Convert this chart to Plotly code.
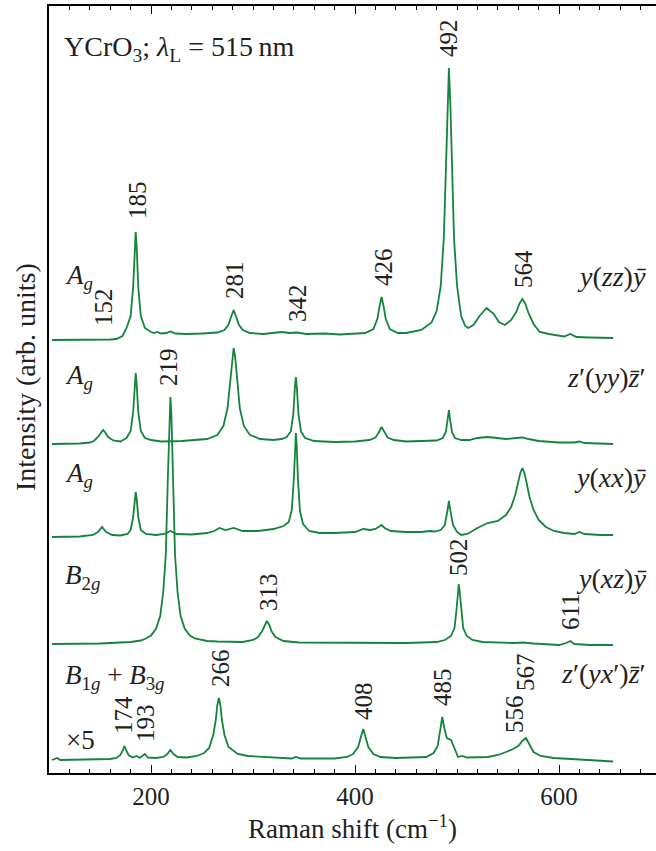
import plotly.graph_objects as go

# ---------------- data (Raman shift in cm^-1, intensity in arb. units) ----------------
zz_x = [103, 120, 140, 160, 166, 172, 176, 180, 182.5, 184, 185, 186, 187.5, 190, 194, 200, 203, 206, 210, 215,
        219, 224, 235, 250, 265, 272, 276, 278.5, 281, 283.5, 286, 290, 297, 310, 320, 328, 336, 343, 352, 370,
        385, 398, 410, 418, 422, 424, 426, 428, 430, 434, 442, 450, 465, 475, 480, 484, 487, 489, 490.5, 492,
        493.5, 495, 497, 500, 504, 508, 511, 516, 522, 529, 536, 541, 547, 553, 558, 561, 564, 567, 570, 575,
        581, 590, 600, 605, 611, 617, 630, 653]
zz_y = [0, 0, 0.5, 0.5, 1, 4, 12, 24, 53, 92, 108, 92, 53, 24, 12, 8, 7, 8, 6.5, 7,
        8.5, 6.5, 6, 6.5, 7.5, 10, 15.4, 23.3, 30, 23.3, 15.4, 10, 7, 6, 7.5, 8, 7, 7.5, 6, 6.5,
        5.5, 6.5, 7, 11, 21.5, 33.6, 43, 33.6, 21.5, 11, 7, 7, 10, 17.6, 29, 54, 102, 169, 234, 272,
        234, 169, 102, 54, 24, 14, 12, 15, 24, 32, 26, 18, 15, 20, 28, 36, 41, 36, 27, 16,
        8, 6, 4, 3.5, 6, 3, 2.5, 2]

yy_x = [103, 130, 140, 144, 148, 150.5, 153, 155.5, 158, 163, 170, 176, 180, 182.5, 184, 185, 186, 187.5, 190, 194,
        200, 210, 230, 250, 255, 265, 271, 275, 277.5, 279.5, 281, 282.5, 284.5, 287, 291, 297, 307, 320, 328, 333,
        337, 339.5, 341, 342, 343, 344.5, 347, 351, 360, 380, 400, 414, 420, 423, 426, 429, 432, 438, 450, 480,
        486, 489, 490.8, 492, 493.2, 495, 498, 504, 512, 520, 530, 540, 548, 558, 564, 570, 580, 600, 615, 620,
        625, 653]
yy_y = [0, 0.5, 1.5, 3, 7, 11, 14, 11, 7, 3.5, 2.5, 6, 13, 32, 59, 71, 59, 32, 13, 6,
        4, 2.5, 3, 4, 5, 9, 18, 36, 61, 87, 96, 87, 61, 36, 18, 9, 5, 4, 5, 7,
        12.5, 30, 56, 67, 56, 30, 12.5, 6, 3, 2, 2.5, 4, 6.5, 11, 17, 11, 6.5, 4, 2.5, 3.5,
        6, 12, 24, 34, 24, 12, 6, 4, 4, 6, 7, 5.5, 5, 6, 6.5, 5, 3, 1.5, 1.5, 2.5,
        1, 0]

xx_x = [103, 130, 143, 148, 152, 156, 162, 170, 177, 180, 182.5, 184, 185, 186, 187.5, 190, 195, 205, 213, 219,
        225, 240, 255, 262, 267, 273, 281, 290, 305, 320, 330, 335, 338, 340, 341.2, 342, 342.8, 344, 346, 349,
        355, 365, 380, 400, 408, 415, 420, 423, 426, 429, 435, 450, 465, 473, 478, 484, 488, 490.5, 492, 493.5,
        496, 500, 504, 510, 520, 530, 540, 548, 553, 557, 560, 562, 564, 566, 568, 571, 575, 580, 587, 595,
        605, 615, 620, 625, 640, 653]
xx_y = [0, 0.5, 2, 5, 10, 5, 2, 1.5, 3, 7, 20, 38, 45, 38, 20, 7, 3, 2, 3, 6,
        3, 2.5, 4, 6, 9, 7, 9, 6, 6, 8, 11, 15, 27, 58, 92, 104, 92, 58, 26, 13,
        6, 4, 4, 5, 8, 7, 8, 10, 12, 9, 6, 5, 5, 6, 5.5, 7, 12, 26, 36, 26,
        12, 5, 2, 3, 9, 14, 16, 22, 30, 42, 55, 64, 69, 64, 55, 40, 27, 17, 10, 6,
        4, 3, 5, 3, 2, 2]

xz_x = [103, 150, 180, 185, 190, 195, 200, 205, 209, 212, 214.5, 216.5, 218, 219, 220, 221.5, 223.5, 226, 229, 233,
        238, 243, 255, 265, 290, 300, 305, 309, 311.5, 313.5, 316, 318, 322, 330, 345, 400, 450, 480, 488, 494,
        497.5, 499.5, 501, 501.7, 502.5, 504, 506, 509.5, 515, 525, 555, 565, 575, 600, 607, 611, 615, 630, 653]
xz_y = [0, 0.5, 2, 3, 3.5, 5.5, 8.5, 15.5, 28, 52, 90, 166, 229, 247, 229, 166, 90, 52, 28, 15.5,
        8.5, 5.5, 3, 2.5, 2, 4, 7, 13, 19, 23, 19, 13, 7, 3, 1.5, 1, 1, 2, 4, 8,
        16, 35, 53, 60, 53, 35, 16, 8, 4, 2, 1, 1.5, 0.5, -1, 1, 3, 0, -1, -1]

yx_x = [103, 108, 111, 140, 160, 166, 170, 172.5, 174, 175.5, 178, 182, 186, 189, 194, 197, 205, 212, 216, 219,
        222, 226, 235, 245, 252, 257, 261, 263.5, 265, 266.5, 268, 269.5, 272, 276, 280, 285, 295, 320, 333, 338,
        342, 347, 380, 392, 398, 403, 406, 408, 410, 413, 418, 425, 440, 470, 477, 481, 483.5, 485.5, 487.5, 490,
        494, 497, 501, 505, 510, 530, 540, 548, 555, 560, 564, 567.5, 571, 575, 582, 595, 620, 653]
yx_y = [0, 2, 0, 0.5, 1, 2, 5, 10, 14, 10, 5, 2.5, 4, 2, 6, 2.5, 2, 3, 6, 10,
        6, 3, 2.5, 4, 7, 12, 25, 40, 55, 62, 55, 40, 25, 13, 10, 6, 4, 2.5, 2, 1.5,
        3, 1.5, 1.5, 3, 6, 13, 24, 31, 24, 13, 6, 3, 2, 3, 7, 14, 30, 43, 32, 22,
        20, 12, 3, 4, 2.5, 3, 5, 8, 11, 14, 19, 22, 15, 8, 4, 2, 0.5, -1.5]

spectra = [(zz_x, zz_y), (yy_x, yy_y), (xx_x, xx_y), (xz_x, xz_y), (yx_x, yx_y)]
offsets = [433, 329, 236, 129, 13]   # vertical stacking of the spectra

geometry_labels = ["<i>y</i>(<i>zz</i>)<i>ȳ</i>",
                   "<i>z</i>′(<i>yy</i>)<i>z̄</i>′",
                   "<i>y</i>(<i>xx</i>)<i>ȳ</i>",
                   "<i>y</i>(<i>xz</i>)<i>ȳ</i>",
                   "<i>z</i>′(<i>yx</i>′)<i>z̄</i>′"]
symmetry_labels = ["<i>A</i><sub><i>g</i></sub>",
                   "<i>A</i><sub><i>g</i></sub>",
                   "<i>A</i><sub><i>g</i></sub>",
                   "<i>B</i><sub>2<i>g</i></sub>",
                   "<i>B</i><sub>1<i>g</i></sub> + <i>B</i><sub>3<i>g</i></sub>"]

peak_text = ["185", "152", "281", "342", "426", "492", "564", "219", "313", "502", "611",
             "174", "193", "266", "408", "485", "556", "567"]
peak_pos = [186.3, 152.9, 281.3, 343.1, 427.4, 491.1, 564.6, 216.6, 314.7, 500.9, 610.7,
            172.5, 194.1, 267.6, 407.8, 485.2, 555.8, 566.6]

# ---------------- figure ----------------
GREEN = "rgb(20,132,60)"
FONT = "Liberation Serif, DejaVu Serif, Times New Roman, serif"
TXT = "#231f20"
BOTTOM = 773  # pixel row of the bottom axis (used for text placement only)

fig = go.Figure()
for (sx, sy), off in zip(spectra, offsets):
    fig.add_trace(go.Scatter(x=sx, y=[v + off for v in sy], mode="lines",
                             line=dict(color=GREEN, width=1.8), hoverinfo="skip",
                             showlegend=False))

ann = []
peak_ypx = [200, 307, 280, 303, 267, 38, 269, 367, 592, 557, 612, 715, 723, 668, 701, 687, 714, 672]
for t, xp, ypx in zip(peak_text, peak_pos, peak_ypx):
    ann.append(dict(x=xp, y=BOTTOM - ypx, xref="x", yref="y", text=t, textangle=-90,
                    showarrow=False, xanchor="center", yanchor="middle",
                    font=dict(family=FONT, size=25, color=TXT)))

sym_ypx = [277, 377, 475, 577, 677]
geo_ypx = [276, 377, 477, 578, 673]
for s, g, sy_, gy_ in zip(symmetry_labels, geometry_labels, sym_ypx, geo_ypx):
    ann.append(dict(x=113.5, y=BOTTOM - sy_, xref="x", yref="y", text=s, showarrow=False,
                    xanchor="left", yanchor="middle", font=dict(family=FONT, size=27, color=TXT)))
    ann.append(dict(x=687.5, y=BOTTOM - gy_, xref="x", yref="y", text=g, showarrow=False,
                    xanchor="right", yanchor="middle", font=dict(family=FONT, size=28, color=TXT)))

ann.append(dict(x=114.5, y=BOTTOM - 740, xref="x", yref="y", text="×5", showarrow=False,
                xanchor="left", yanchor="middle", font=dict(family=FONT, size=27, color=TXT)))
ann.append(dict(x=113, y=BOTTOM - 48, xref="x", yref="y",
                text="YCrO<sub>3</sub>; <i>λ</i><sub>L</sub> = 515\u2009nm", showarrow=False,
                xanchor="left", yanchor="middle", font=dict(family=FONT, size=28, color=TXT)))
ann.append(dict(x=0, y=BOTTOM - 377, xref="paper", yref="y", xshift=-24,
                text="Intensity (arb. units)", textangle=-90, showarrow=False,
                xanchor="center", yanchor="middle", font=dict(family=FONT, size=28, color=TXT)))
ann.append(dict(x=0.5, y=0, xref="paper", yref="paper", yshift=-54,
                text="Raman shift (cm<sup>−1</sup>)", showarrow=False,
                xanchor="center", yanchor="middle", font=dict(family=FONT, size=27, color=TXT)))

fig.update_layout(
    width=656, height=851,
    margin=dict(l=49, r=0, t=6, b=78),
    paper_bgcolor="white", plot_bgcolor="white",
    font=dict(family=FONT, color=TXT),
    annotations=ann,
    xaxis=dict(range=[100, 695], showline=True, linecolor="black", linewidth=1.5, mirror="ticks",
               ticks="inside", ticklen=8, tickwidth=1.3, tickcolor="black",
               tick0=0, dtick=200, showgrid=False, zeroline=False,
               tickfont=dict(family=FONT, size=25, color=TXT), ticklabelstandoff=0,
               minor=dict(ticks="inside", ticklen=4, tickwidth=1.1, tickcolor="black",
                          tick0=0, dtick=20, showgrid=False)),
    yaxis=dict(range=[0, 767], showline=True, linecolor="black", linewidth=1.5, mirror=False,
               ticks="", showticklabels=False, showgrid=False, zeroline=False),
)

fig.write_html("out.html", config={"displayModeBar": False},
               post_script="document.body.style.margin='0';document.body.style.overflow='hidden';")
